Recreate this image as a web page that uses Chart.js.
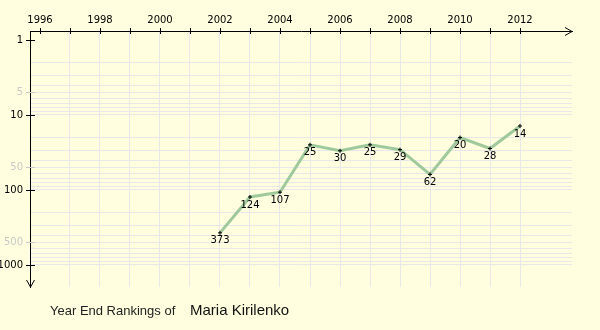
<!DOCTYPE html>
<html>
<head>
<meta charset="utf-8">
<script src="https://cdn.jsdelivr.net/npm/chart.js@4.4.1/dist/chart.umd.min.js"></script>
<style>
  body { margin: 0; background: #ffffe0; }
  canvas { display: block; }
</style>
</head>
<body>
<canvas id="rankChart" width="600" height="330"></canvas>
<script>
const years = [2002, 2003, 2004, 2005, 2006, 2007, 2008, 2009, 2010, 2011, 2012];
const rankings = [373, 124, 107, 25, 30, 25, 29, 62, 20, 28, 14];
const yearTicks = [1996, 1997, 1998, 1999, 2000, 2001, 2002, 2003, 2004, 2005, 2006, 2007, 2008, 2009, 2010, 2011, 2012];
const rankTicks = [1, 2, 3, 4, 5, 6, 7, 8, 9, 10, 20, 30, 40, 50, 60, 70, 80, 90, 100,
  200, 300, 400, 500, 600, 700, 800, 900, 1000];
const majorRanks = [1, 10, 100, 1000];
const minorLabelRanks = [5, 50, 500];
const playerName = "Maria Kirilenko";

const tickFont = { family: "DejaVu Sans", size: 10 };
const gridColor = "#e8e8ea";

// tick marks crossing the axes, arrows, point labels and the caption
const decorations = {
  id: "decorations",
  afterDatasetsDraw(chart) {
    const ctx = chart.ctx;
    const meta = chart.getDatasetMeta(0);
    ctx.save();
    ctx.font = "10px 'DejaVu Sans'";
    ctx.fillStyle = "#000";
    ctx.textAlign = "center";
    ctx.textBaseline = "top";
    meta.data.forEach((pt, i) => {
      ctx.fillText(String(rankings[i]), pt.x, pt.y + 3);
    });
    ctx.restore();
  },
  afterDraw(chart) {
    const ctx = chart.ctx;
    const area = chart.chartArea;
    const xs = chart.scales.x;
    const ys = chart.scales.y;
    ctx.save();
    ctx.lineWidth = 1;

    // x ticks
    ctx.strokeStyle = "#000";
    yearTicks.forEach((v) => {
      const px = Math.round(xs.getPixelForValue(v)) + 0.5;
      ctx.beginPath();
      ctx.moveTo(px, area.top - 3);
      ctx.lineTo(px, area.top + 3);
      ctx.stroke();
    });

    // y ticks
    rankTicks.forEach((v) => {
      let col = null;
      if (majorRanks.includes(v)) col = "#000";
      else if (minorLabelRanks.includes(v)) col = "#c8c8c8";
      if (!col) return;
      const py = Math.round(ys.getPixelForValue(v)) + 0.5;
      ctx.strokeStyle = col;
      ctx.beginPath();
      ctx.moveTo(area.left - 4, py);
      ctx.lineTo(area.left + 5, py);
      ctx.stroke();
    });

    // arrows
    ctx.strokeStyle = "#000";
    const ax = area.right, ay = Math.round(area.top) + 0.5;
    ctx.beginPath();
    ctx.moveTo(ax - 7, ay - 4);
    ctx.lineTo(ax, ay);
    ctx.lineTo(ax - 7, ay + 4);
    ctx.stroke();
    const bx = Math.round(area.left) + 0.5, by = area.bottom;
    ctx.beginPath();
    ctx.moveTo(bx - 4, by - 7);
    ctx.lineTo(bx, by);
    ctx.lineTo(bx + 4, by - 7);
    ctx.stroke();

    // caption
    ctx.fillStyle = "#222";
    ctx.textAlign = "left";
    ctx.textBaseline = "alphabetic";
    ctx.font = "13px 'Liberation Sans'";
    ctx.fillText("Year End Rankings of", 50, 315);
    ctx.fillStyle = "#111";
    ctx.font = "15px 'Liberation Sans'";
    ctx.fillText(playerName, 190, 315);
    ctx.restore();
  }
};

const ctx = document.getElementById("rankChart").getContext("2d");
const rankChart = new Chart(ctx, {
  type: "line",
  data: {
    datasets: [
      {
        label: "Ranking",
        data: years.map((y, i) => ({ x: y, y: rankings[i] })),
        borderColor: "#9fc99c",
        borderWidth: 3,
        pointStyle: "cross",
        pointRadius: 2,
        pointBorderColor: "#000",
        pointBorderWidth: 1,
        tension: 0,
      },
    ],
  },
  options: {
    responsive: false,
    animation: false,
    layout: {
      padding: { left: 0, top: 0, right: 28, bottom: 43 },
    },
    plugins: {
      legend: { display: false },
      tooltip: { enabled: false },
    },
    scales: {
      x: {
        type: "linear",
        position: "top",
        min: 1995.667,
        max: 2013.733,
        afterBuildTicks: (scale) => {
          scale.ticks = yearTicks.map((v) => ({ value: v }));
        },
        afterFit: (scale) => {
          scale.height = 31;
        },
        ticks: {
          autoSkip: false,
          maxRotation: 0,
          padding: 5,
          color: "#000",
          font: tickFont,
          callback: (v) => (v % 2 === 0 ? String(v) : ""),
        },
        grid: {
          drawTicks: false,
          color: (c) => (c.tick && c.tick.value === 1996 ? "rgba(0,0,0,0)" : gridColor),
        },
        border: { display: true, color: "#000", width: 1 },
      },
      y: {
        type: "logarithmic",
        position: "left",
        reverse: true,
        min: 0.759,
        max: 1965,
        afterBuildTicks: (scale) => {
          scale.ticks = rankTicks.map((v) => ({ value: v }));
        },
        afterFit: (scale) => {
          scale.width = 30;
        },
        ticks: {
          autoSkip: false,
          padding: 7,
          font: tickFont,
          color: (c) => (minorLabelRanks.includes(c.tick.value) ? "#c8c8c8" : "#000"),
          callback: (v) =>
            majorRanks.includes(v) || minorLabelRanks.includes(v) ? String(v) : "",
        },
        grid: {
          drawTicks: false,
          color: (c) => (c.tick && c.tick.value === 1 ? "rgba(0,0,0,0)" : gridColor),
        },
        border: { display: true, color: "#000", width: 1 },
      },
    },
  },
  plugins: [decorations],
});
</script>
</body>
</html>
